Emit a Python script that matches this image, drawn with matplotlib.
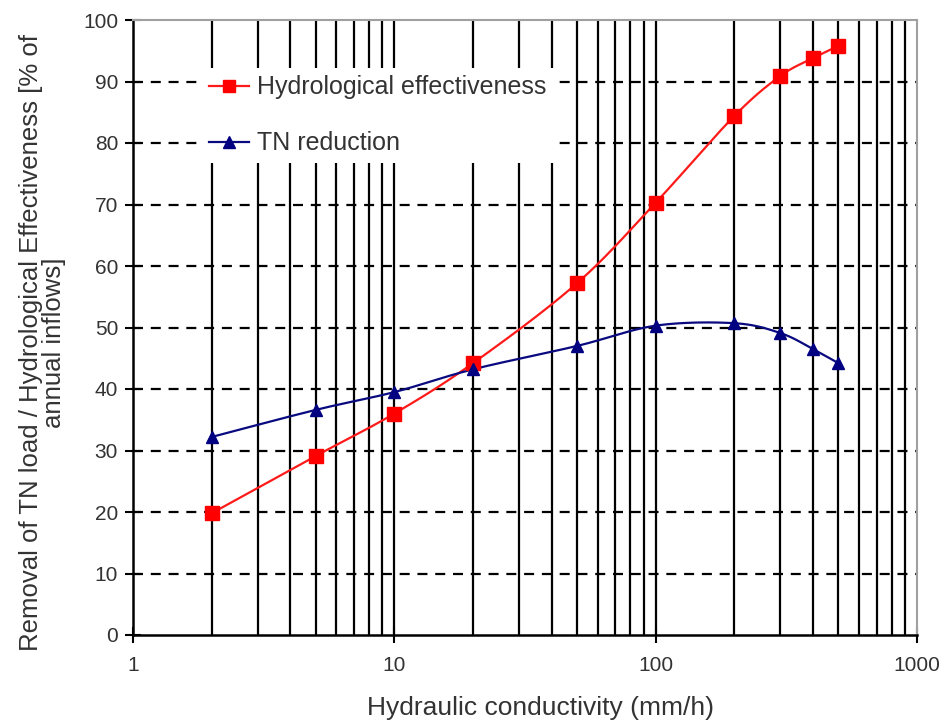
import numpy as np
import matplotlib
matplotlib.use("Agg")
import matplotlib.pyplot as plt
from matplotlib.ticker import FixedLocator, NullFormatter, FixedFormatter

plt.rcParams['font.family'] = ['Liberation Sans', 'DejaVu Sans']

# ---- data ----
conductivity = [2, 5, 10, 20, 50, 100, 200, 300, 400, 500]
hydro_eff = [19.8, 29.1, 36.0, 44.2, 57.2, 70.3, 84.4, 90.9, 93.8, 95.8]
tn_reduction = [32.2, 36.6, 39.5, 43.2, 47.0, 50.3, 50.7, 49.1, 46.5, 44.2]
x_ticks = [1, 10, 100, 1000]
x_tick_labels = ["1", "10", "100", "1000"]
y_ticks = [0, 10, 20, 30, 40, 50, 60, 70, 80, 90, 100]
series_names = ["Hydrological effectiveness", "TN reduction"]


def smooth(xs, ys, n=30):
    """Catmull-Rom style smoothing in log10(x) space (like a spreadsheet smoothed line)."""
    lx = np.log10(np.asarray(xs, float))
    y = np.asarray(ys, float)
    P = np.column_stack([lx, y])
    out = []
    for i in range(len(P) - 1):
        p0 = P[i - 1] if i > 0 else P[i]
        p1 = P[i]
        p2 = P[i + 1]
        p3 = P[i + 2] if i + 2 < len(P) else P[i + 1]
        c1 = p1 + (p2 - p0) / 6.0
        c2 = p2 - (p3 - p1) / 6.0
        t = np.linspace(0, 1, n, endpoint=(i == len(P) - 2))[:, None]
        seg = ((1 - t) ** 3) * p1 + 3 * ((1 - t) ** 2) * t * c1 + 3 * (1 - t) * t ** 2 * c2 + t ** 3 * p2
        out.append(seg)
    seg = np.vstack(out)
    return 10 ** seg[:, 0], seg[:, 1]


fig = plt.figure(figsize=(9.45, 7.24), dpi=100)
ax = fig.add_axes([133 / 945, 1 - 635 / 724, (917 - 133) / 945, (635 - 20) / 724])

ax.set_xscale('log')
ax.set_xlim(1, 1000)
ax.set_ylim(0, 100)

# grid: vertical solid at all decade subdivisions, horizontal dashed
minor_pos = [m * 10 ** e for e in range(0, 3) for m in range(2, 10)]
for v in minor_pos + [10, 100]:
    ax.axvline(v, color='black', lw=1.6, zorder=1)
for h in y_ticks[1:-1]:
    ax.axhline(h, color='black', lw=1.6, ls=(0, (4.5, 3.5)), zorder=1)

hx, hy = smooth(conductivity, hydro_eff)
tx, ty = smooth(conductivity, tn_reduction)
ax.plot(hx, hy, color='#ff1a1a', lw=1.6, zorder=3)
ax.plot(tx, ty, color='#0a0a80', lw=1.6, zorder=3)
ax.plot(conductivity, hydro_eff, ls='none', marker='s', color='#ff0000', ms=9.5, zorder=4)
ax.plot(conductivity, tn_reduction, ls='none', marker='^', color='#000080', ms=9, zorder=4)

# legend proxies
h1, = ax.plot([], [], color='#ff1a1a', lw=1.6, marker='s', ms=9, mfc='#ff0000', mec='#ff0000')
h2, = ax.plot([], [], color='#0a0a80', lw=1.6, marker='^', ms=9, mfc='#000080', mec='#000080')
leg = ax.legend([h1, h2], series_names, loc='upper left', bbox_to_anchor=(0.087, 0.922),
                fontsize=18, frameon=True, fancybox=False, framealpha=1, edgecolor='none',
                facecolor='white', handlelength=1.6, handletextpad=0.35, labelspacing=1.28,
                borderpad=0.3, borderaxespad=0.0, numpoints=1)
leg.set_zorder(5)
for t in leg.get_texts():
    t.set_color('#333333')

# ticks
ax.xaxis.set_major_locator(FixedLocator(x_ticks))
ax.xaxis.set_major_formatter(FixedFormatter(x_tick_labels))
ax.xaxis.set_minor_locator(FixedLocator([]))
ax.xaxis.set_minor_formatter(NullFormatter())
ax.set_yticks(y_ticks)
ax.tick_params(axis='x', which='major', direction='inout', length=12, width=1.5,
               labelsize=15, pad=9, colors='black', labelcolor='#333333')
ax.tick_params(axis='y', which='major', direction='inout', length=11.5, width=1.5,
               labelsize=15, pad=5, colors='black', labelcolor='#333333')

for s in ['left', 'bottom']:
    ax.spines[s].set_color('black')
    ax.spines[s].set_linewidth(1.8)
for s in ['top', 'right']:
    ax.spines[s].set_color('#a0a0a0')
    ax.spines[s].set_linewidth(1.5)

ax.set_xlabel("Hydraulic conductivity (mm/h)", fontsize=19, color='#333333')
ax.xaxis.set_label_coords(0.5204, -0.100)
ax.set_ylabel("Removal of TN load / Hydrological Effectiveness [% of\nannual inflows]",
              fontsize=18.5, color='#333333', linespacing=0.95)
ax.yaxis.set_label_coords(-0.086, 0.476)

fig.savefig("out.png", dpi=100)
